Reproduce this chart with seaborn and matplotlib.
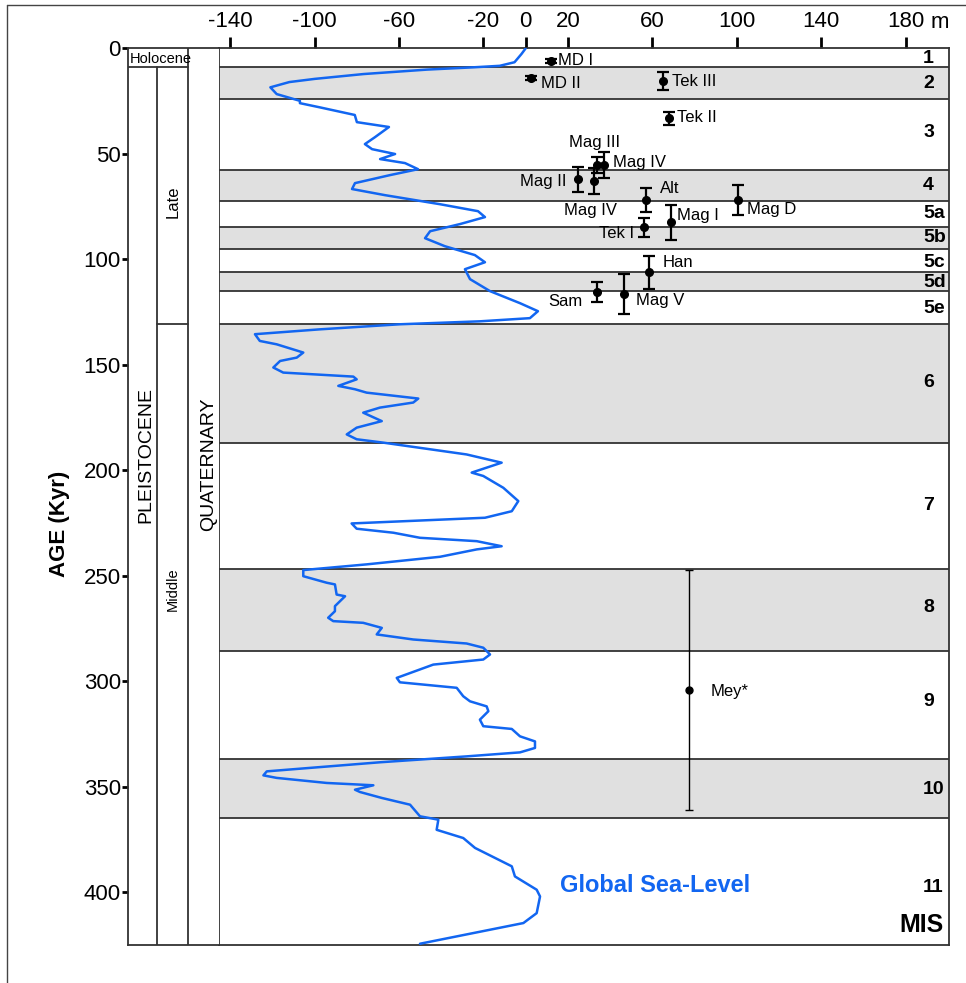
import matplotlib
matplotlib.use("Agg")
import matplotlib.pyplot as plt
import matplotlib.transforms as mtransforms
from matplotlib.lines import Line2D
import seaborn as sns
import pandas as pd

# --- Marine isotope stages (boundaries in kyr) ---
mis_bounds = [0, 8.7, 24.2, 57.7, 72.4, 84.5, 95.1, 105.9, 114.9, 130.7,
              186.9, 246.9, 285.5, 337.0, 364.9, 425]
mis_names = ['1', '2', '3', '4', '5a', '5b', '5c', '5d', '5e', '6', '7', '8', '9', '10', '11']
mis_grey = [False, True, False, True, False, True, False, True, False, True,
            False, True, False, True, False]
mis_label_age = [4.6, 16.9, 40.1, 65.1, 78.5, 89.9, 101.3, 111.1, 123.1, 158.6,
                 216.9, 265.2, 309.7, 351.1, 397.7]

# --- Global sea-level curve (age kyr, elevation m) ---
sl_age = [0, 2.7, 6.6, 8.3, 9.0, 10.1, 12.2, 14.5, 16.0, 18.5, 21.7, 24.9, 26.0, 28.0,
          31.6, 35.0, 37.3, 42.1, 45.4, 47.8, 50.1, 52.5, 54.4, 57.3, 60.1, 63.9, 66.7,
          69.6, 73.9, 77.2, 80.0, 83.3, 86.7, 90.0, 93.8, 98.0, 101.4, 104.7, 109.4,
          115.1, 120.8, 124.6, 127.9, 129.4, 130.8, 133.2, 135.5, 138.7, 140.3, 144.2,
          146.6, 148.2, 151.3, 153.7, 155.6, 156.9, 160.0, 161.6, 163.2, 166.0, 167.9,
          170.3, 172.7, 176.7, 179.8, 183.0, 185.3, 186.9, 192.5, 196.4, 201.1, 202.7,
          208.3, 214.6, 219.4, 222.5, 225.2, 227.7, 229.6, 232.0, 233.6, 236.0, 237.5,
          241.0, 244.6, 247.3, 250.2, 253.3, 254.1, 258.9, 259.7, 264.4, 266.8, 269.9,
          271.5, 272.3, 274.7, 277.8, 280.2, 282.1, 284.1, 287.3, 289.7, 292.1, 298.4,
          300.5, 303.1, 307.1, 309.5, 311.9, 314.2, 318.2, 321.3, 322.6, 326.1, 328.5,
          331.6, 333.7, 335.6, 338.4, 342.7, 344.6, 345.8, 348.2, 349.3, 351.4, 352.5,
          355.3, 358.5, 364.0, 365.6, 370.4, 374.3, 379.0, 387.7, 392.5, 398.8, 402.0,
          409.9, 414.6, 424.4]
sl_m = [0, -2, -5.3, -12.3, -24.5, -46.8, -76.8, -100, -112, -121, -118, -107, -107, -97.5,
        -81, -80, -64.8, -71.4, -76.2, -72.8, -61.9, -69, -57.2, -51, -64.3, -80.9, -82.3,
        -66.7, -40.6, -22.6, -19.3, -31.1, -45.3, -47.7, -38.3, -24.1, -19.3, -28.8, -26.4,
        -16.9, -2.7, 5.8, 2.0, -21.7, -59.6, -97.5, -128.3, -126, -118, -105.4,
        -108.5, -116.4, -119.6, -114.9, -81.7, -80.1, -88.8, -80.9, -75.4, -50.9, -53.3,
        -69.1, -77, -68.2, -80.1, -84.8, -80.1, -67.5, -28, -11.4, -25.6, -20.1,
        -10.6, -3.5, -6.6, -19.3, -82.5, -80.1, -62.7, -50.1, -23.2, -11.4, -23.2,
        -40.6, -75.4, -105.4, -105.4, -94.3, -90.4, -89.6, -85.6, -90.4, -90.4, -93.6,
        -91.2, -77, -68.2, -70.6, -53.3, -28, -20.1, -16.9, -20.1, -43.8, -61.1,
        -59.6, -32.7, -29.6, -26.4, -18.5, -17.7, -21.7, -20.1, -6.6, -2.7, 4.4,
        4.4, -2.7, -28, -69.1, -122.7, -124.3, -118, -94.3, -72.2, -80.9, -78.5,
        -68.2, -54.8, -50.1, -41.4, -42.2, -29.6, -24, -6.6, -5.1, 5.2, 6.8,
        5.2, -1.1, -50.1]

# --- Dated palaeo-shorelines (elevation m, age kyr, age error kyr) ---
site_elev = [12.0, 2.7, 65.1, 67.8, 33.9, 37.1, 24.9, 32.5, 57.0, 100.5, 68.7, 56.1, 58.6, 33.7, 46.6, 77.6]
site_age = [6.0, 13.9, 15.5, 33.2, 55.3, 55.3, 62.1, 62.9, 71.9, 71.9, 82.5, 84.8, 106.2, 115.4, 116.4, 304.1]
site_err = [1.0, 1.0, 4.1, 3.2, 4.0, 6.2, 5.9, 6.0, 5.9, 7.1, 8.3, 4.4, 7.7, 4.7, 9.5, 57.0]

label_text = ['MD I', 'MD II', 'Tek III', 'Tek II', 'Mag III', 'Mag IV', 'Mag II', 'Alt',
              'Mag D', 'Mag IV', 'Mag I', 'Tek I', 'Han', 'Sam', 'Mag V', 'Mey*']
label_x = [15.3, 7.3, 69.4, 71.7, 32.4, 41.5, 19.1, 63.7, 104.8, 30.5, 71.6, 51.3, 64.9, 27.0, 52.1, 87.4]
label_y = [6.0, 16.5, 15.5, 33.0, 44.7, 54.0, 63.2, 66.4, 76.6, 77.1, 79.3, 87.7, 101.4, 120.1, 119.3, 304.9]
label_ha = ['left', 'left', 'left', 'left', 'center', 'left', 'right', 'left',
            'left', 'center', 'left', 'right', 'left', 'right', 'left', 'left']

x_ticks = [-140, -100, -60, -20, 0, 20, 60, 100, 140, 180]
y_ticks = [0, 50, 100, 150, 200, 250, 300, 350, 400]

sns.set_style("white")
plt.rcParams['font.family'] = ['Liberation Sans', 'DejaVu Sans']
plt.rcParams['axes.unicode_minus'] = False
for k in ['text.color', 'axes.labelcolor', 'xtick.color', 'ytick.color']:
    plt.rcParams[k] = 'black'

W, H = 966, 983
fig = plt.figure(figsize=(W / 100, H / 100), dpi=100)
edge = '#333333'
grey = '#e0e0e0'
blue = '#1266f1'

def rect(x0, x1, y0, y1):
    return [x0 / W, 1 - y1 / H, (x1 - x0) / W, (y1 - y0) / H]

ax = fig.add_axes(rect(219.3, 949, 48.3, 945))
sx = fig.add_axes(rect(127.7, 219.3, 48.3, 945))

# stage bands
for i, name in enumerate(mis_names):
    if mis_grey[i]:
        ax.axhspan(mis_bounds[i], mis_bounds[i + 1], color=grey, lw=0, zorder=0)
for b in mis_bounds[1:-1]:
    ax.axhline(b, color=edge, lw=1.3, zorder=1)

# sea-level curve
sl = pd.DataFrame({'age': sl_age, 'elev': sl_m})
sns.lineplot(data=sl, x='elev', y='age', sort=False, estimator=None,
             color=blue, lw=1.8, ax=ax, zorder=3, solid_joinstyle='round')

# dated shorelines
for e, a, er in zip(site_elev, site_age, site_err):
    big = er > 20
    ax.errorbar(e, a, yerr=er, fmt='o', color='black', ms=5 if big else 5.5,
                elinewidth=1.0 if big else 1.6, capsize=3 if big else 4,
                capthick=1.0 if big else 1.6, zorder=4)

for t, x, y, ha in zip(label_text, label_x, label_y, label_ha):
    ax.text(x, y, t, ha=ha, va='center', fontsize=12, zorder=5)

for name, y in zip(mis_names, mis_label_age):
    ax.text(188.3, y, name, ha='left', va='center', fontsize=14, fontweight='bold')
ax.text(197.9, 415.5, 'MIS', ha='right', va='center', fontsize=18, fontweight='bold')
ax.text(16.3, 397, 'Global Sea-Level', ha='left', va='center', fontsize=17,
        fontweight='bold', color=blue)

ax.set_xlim(-145.2, 200.6)
ax.set_ylim(425, 0)
ax.set_xticks(x_ticks)
ax.set_xticklabels([str(v) for v in x_ticks])
ax.set_yticks([])
ax.set_xlabel('')
ax.set_ylabel('')
ax.xaxis.tick_top()
ax.tick_params(axis='x', top=True, bottom=False, labeltop=True, labelbottom=False,
               direction='out', length=8, width=2, pad=3.5, labelsize=16, color='black')
for s in ax.spines.values():
    s.set_color(edge)
    s.set_linewidth(1.3)
ax.annotate('m', xy=(180, 1), xycoords=('data', 'axes fraction'),
            xytext=(18, 11.3), textcoords='offset points', ha='left', va='bottom',
            fontsize=16)

# stratigraphic columns
sx.set_xlim(0, 1)
sx.set_ylim(425, 0)
sx.set_xticks([])
sx.set_yticks(y_ticks)
sx.tick_params(axis='y', left=True, direction='out', length=4, width=2, pad=1,
               labelsize=16, color='black')
sx.spines['right'].set_visible(False)
for s in ['left', 'top', 'bottom']:
    sx.spines[s].set_color(edge)
    sx.spines[s].set_linewidth(1.3)
c1, c2 = 0.3166, 0.6616
sx.plot([0, c2], [8.7, 8.7], color=edge, lw=1.3)
sx.plot([c1, c1], [8.7, 425], color=edge, lw=1.3)
sx.plot([c2, c2], [0, 425], color=edge, lw=1.3)
sx.plot([c1, c2], [130.7, 130.7], color=edge, lw=1.3)
tr = mtransforms.blended_transform_factory(sx.transAxes, sx.transData)
sx.text(0.025, 5.1, 'Holocene', transform=tr, ha='left', va='center', fontsize=10.5)
sx.text(0.197, 192.7, 'PLEISTOCENE', transform=tr, rotation=90, ha='center',
        va='center', fontsize=14)
sx.text(0.888, 197, 'QUATERNARY', transform=tr, rotation=90, ha='center',
        va='center', fontsize=14)
sx.text(0.495, 72.8, 'Late', transform=tr, rotation=90, ha='center', va='center', fontsize=12)
sx.text(0.495, 256.3, 'Middle', transform=tr, rotation=90, ha='center', va='center', fontsize=10.5)

fig.text(59 / W, 1 - 524 / H, 'AGE (Kyr)', rotation=90, ha='center', va='center',
         fontsize=16, fontweight='bold')

# outer frame (cropped at right and bottom)
fig.add_artist(Line2D([7 / W, 1], [1 - 5 / H, 1 - 5 / H], color='#444444', lw=1))
fig.add_artist(Line2D([7 / W, 7 / W], [0, 1 - 5 / H], color='#444444', lw=1))

fig.savefig('out.png', dpi=100)
